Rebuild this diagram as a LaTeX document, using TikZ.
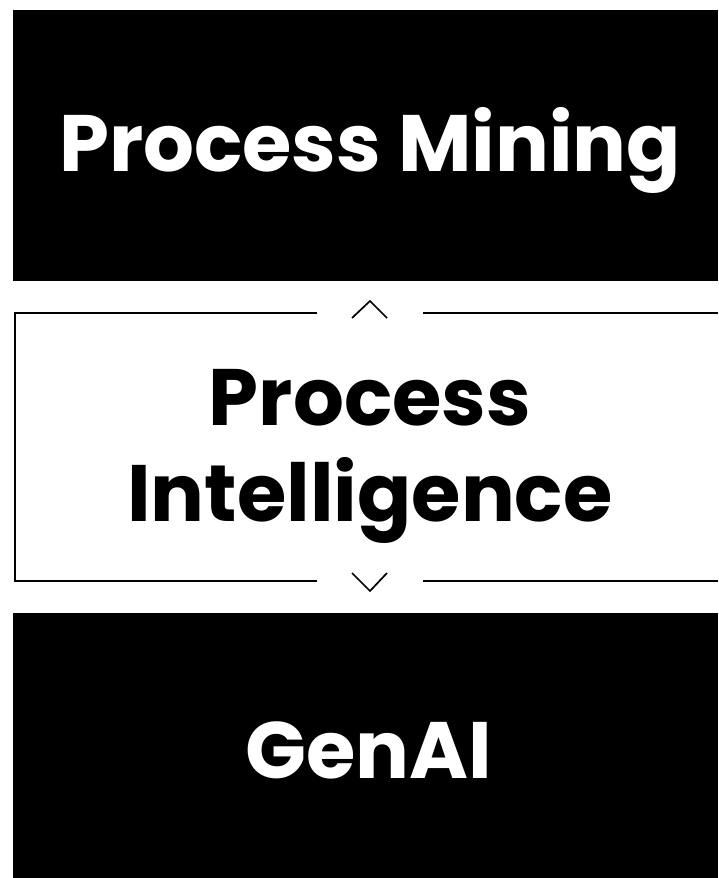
\documentclass[tikz,border=0pt]{standalone}
\usepackage{fontspec}
\setmainfont{Poppins}
\usetikzlibrary{positioning}
\tikzset{
x=1pt, y=-1pt, % one unit is one pixel of the layout, y grows downwards
band/.style={fill=black, inner sep=0pt, minimum width=705pt}, % the two black blocks
title/.style={font=\bfseries\fontsize{80}{96}\selectfont, anchor=base, inner sep=0pt}, % big headings
frameline/.style={line width=2pt}, % thin frame round the middle part
chevron/.style={line width=1.7pt, line join=miter}, % small arrow heads in the gaps
}

\begin{document}
\begin{tikzpicture}
        \useasboundingbox[fill=white] (0,0) rectangle (718,878);

        \node[band, minimum height=271pt] (mining) at (365.5,145.5) {};
        \node[band, minimum height=265pt] (genai) at (365.5,745.5) {};

        \node[title, text=white] (miningtext) at (370,171) {Process Mining};
        \node[title] (inteltop) at (370,425) {Process};
        \node[title] (intelbottom) at (370,521) {Intelligence};
        \node[title, text=white] (genaitext) at (369,778) {GenAI};

        % frame, open on the right
        \coordinate (tl) at (15,313);
        \coordinate (bl) at (15,581);
        \coordinate (tgapl) at (317,313);
        \coordinate (tgapr) at (423,313);
        \coordinate (bgapl) at (317,581);
        \coordinate (bgapr) at (423,581);
        \coordinate (tr) at (718,313);
        \coordinate (br) at (718,581);
        \draw[frameline] (tgapl) -- (tl) -- (bl) -- (bgapl);
        \draw[frameline] (tgapr) -- (tr);
        \draw[frameline] (bgapr) -- (br);

        \draw[chevron] (352,318) -- (370,301) -- (387,318);
        \draw[chevron] (352,573) -- (370,591) -- (387,573);
    \end{tikzpicture}
\end{document}
